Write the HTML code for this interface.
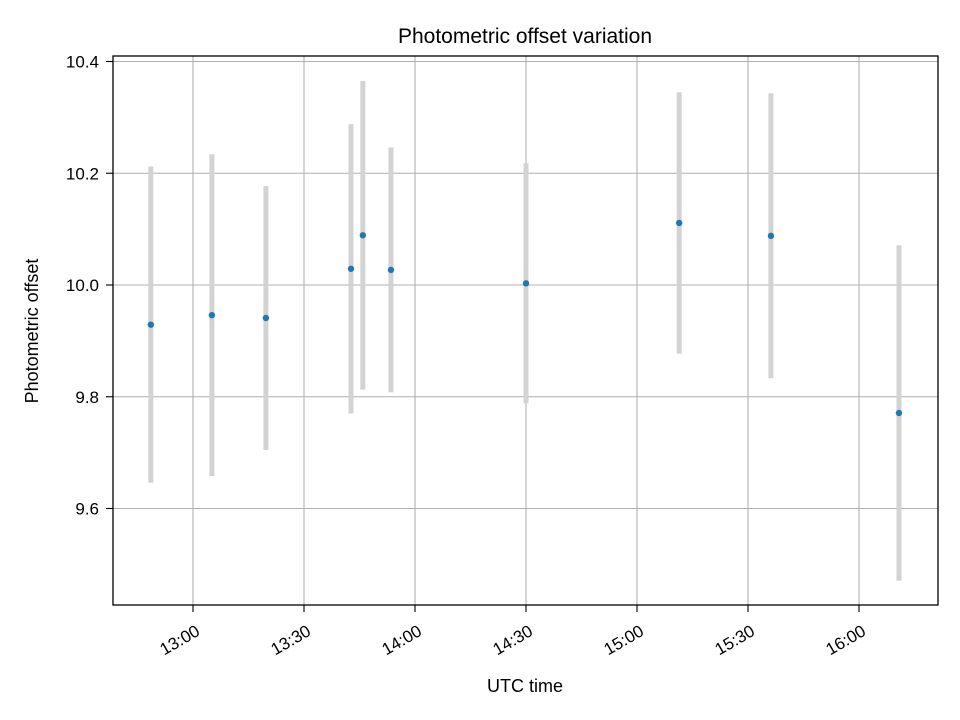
<!DOCTYPE html>
<html><head><meta charset="utf-8"><style>
body{margin:0;background:#fff;}
svg{display:block;font-family:"Liberation Sans","DejaVu Sans",sans-serif;}
</style></head><body>
<svg width="960" height="720" viewBox="0 0 960 720">
<rect width="960" height="720" fill="#fff"/>
<g id="grid"></g>
<g id="bars"></g>
<g id="pts"></g>
<rect x="113" y="56" width="825" height="549" fill="none" stroke="#000" stroke-width="1.3"/>
<g id="axes"></g>
<text x="525" y="43" text-anchor="middle" font-size="21">Photometric offset variation</text>
<text x="525" y="692" text-anchor="middle" font-size="18">UTC time</text>
<text transform="translate(38,331) rotate(-90)" text-anchor="middle" font-size="18">Photometric offset</text>
</svg>
<script>
// minutes after 13:00 UTC
const times = [-11.4, 5.1, 19.7, 42.7, 45.9, 53.5, 90, 131.4, 156.2, 190.8];
const offsets = [9.929, 9.946, 9.941, 10.029, 10.089, 10.027, 10.003, 10.111, 10.088, 9.771];
const errors = [0.283, 0.288, 0.236, 0.259, 0.276, 0.219, 0.215, 0.234, 0.255, 0.300];
const xTicks = [0, 30, 60, 90, 120, 150, 180];
const xTickLabels = ["13:00","13:30","14:00","14:30","15:00","15:30","16:00"];
const yTicks = [9.6, 9.8, 10.0, 10.2, 10.4];
const yTickLabels = ["9.6","9.8","10.0","10.2","10.4"];

const NS = "http://www.w3.org/2000/svg";
function xs(m){return 193 + m*3.7;}
function ys(v){return 285 - (v-10)*558.75;}
function mk(tag, attrs, parent){const e=document.createElementNS(NS,tag);for(const k in attrs)e.setAttribute(k,attrs[k]);parent.appendChild(e);return e;}
const grid=document.getElementById('grid'), bars=document.getElementById('bars'), pts=document.getElementById('pts'), axes=document.getElementById('axes');
xTicks.forEach((t,i)=>{
  const x=xs(t);
  const g=mk('line',{x1:x,x2:x,y1:56,y2:605,stroke:'#b0b0b0','stroke-width':1.1},grid);
  
  
  const tk=mk('line',{x1:x,x2:x,y1:605,y2:612,stroke:'#000','stroke-width':1.1},axes);
  
  
  const tx=mk('text',{transform:`translate(${x+2},${624}) rotate(-30)`,'text-anchor':'end','font-size':17,'dominant-baseline':'hanging'},axes);
  tx.textContent=xTickLabels[i];
  
  
});
yTicks.forEach((t,i)=>{
  const y=ys(t);
  const g=mk('line',{x1:113,x2:938,y1:y,y2:y,stroke:'#b0b0b0','stroke-width':1.1},grid);
  
  
  const tk=mk('line',{x1:106,x2:113,y1:y,y2:y,stroke:'#000','stroke-width':1.1},axes);
  
  
  const tx=mk('text',{x:99,y:y+6,'text-anchor':'end','font-size':17},axes);
  tx.textContent=yTickLabels[i];
  
  
});
times.forEach((t,i)=>{
  const x=xs(t);
  const b=mk('line',{x1:x,x2:x,y1:ys(offsets[i]+errors[i]),y2:ys(offsets[i]-errors[i]),stroke:'#d3d3d3','stroke-width':5},bars);
  
  
  const c=mk('circle',{cx:x,cy:ys(offsets[i]),r:3.2,fill:'#1f77b4'},pts);
  
  
});
</script>
</body></html>
